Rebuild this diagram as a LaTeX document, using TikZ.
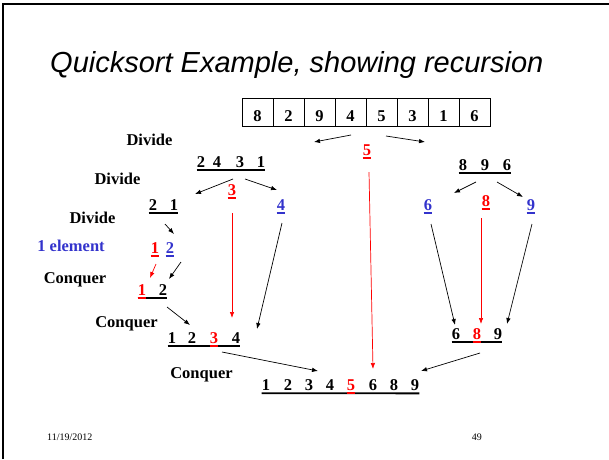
\documentclass[tikz,border=0pt]{standalone}
\usepackage{fontspec}
\setmainfont{Liberation Serif}
\newfontfamily\titlefont{Liberation Sans}
\usepackage{tikz}
\usetikzlibrary{arrows.meta,positioning}
\definecolor{pivotred}{RGB}{255,0,0}
\definecolor{leafblue}{RGB}{51,51,204}
\newcommand\numfont{\bfseries\fontsize{16.5}{18}\selectfont}

\begin{document}
\begin{tikzpicture}[
  x=1pt,y=-1pt,
  node distance=0pt,
  cell/.style={draw,line width=0.8pt,font=\numfont,minimum width=31pt,minimum height=28pt,
    inner sep=0pt,outer sep=0pt,text height=18pt,text depth=0pt},
  num/.style={font=\numfont,inner sep=0pt,anchor=base},
  lbl/.style={font=\numfont,inner sep=0pt},
  uline/.style={line width=1.8pt},
  arrow/.style={-{Latex[length=6pt,width=4.5pt]},line width=0.7pt},
  redarrow/.style={arrow,pivotred}
]
\useasboundingbox (0,0) rectangle (609,459);
% slide frame
\draw[line width=1.6pt] (3,459) -- (3,4) -- (609,4);
\node[anchor=base west,inner sep=0pt,font=\titlefont\itshape\fontsize{29}{32}\selectfont]
  (title) at (50,72) {Quicksort Example, showing recursion};

% input array
\node[cell] (c1) at (257.5,112) {8};
\node[cell,right=of c1] (c2) {2};
\node[cell,right=of c2] (c3) {9};
\node[cell,right=of c3] (c4) {4};
\node[cell,right=of c4] (c5) {5};
\node[cell,right=of c5] (c6) {3};
\node[cell,right=of c6] (c7) {1};
\node[cell,right=of c7] (c8) {6};

% step labels
\node[lbl] (div1) at (149.5,140) {Divide};
\node[lbl] (div2) at (117.5,179) {Divide};
\node[lbl] (div3) at (92.5,218) {Divide};
\node[lbl,text=leafblue] (one) at (71,246) {1 element};
\node[lbl] (con1) at (75,280) {Conquer};
\node[lbl] (con2) at (126.5,324) {Conquer};
\node[lbl] (con3) at (201.5,375) {Conquer};

% rows of numbers
\foreach \x/\d/\c [count=\i] in {201/2/black,217/4/black,240/3/black,261/1/black}
  \node[num,text=\c] (la\i) at (\x,167.5) {\d};
\foreach \x/\d/\c [count=\i] in {153/2/black,174/1/black}
  \node[num,text=\c] (lb\i) at (\x,210.5) {\d};
\foreach \x/\d/\c [count=\i] in {142/1/pivotred,163/2/black}
  \node[num,text=\c] (lf\i) at (\x,295.5) {\d};
\foreach \x/\d/\c [count=\i] in {172/1/black,192/2/black,214/3/pivotred,236/4/black}
  \node[num,text=\c] (lg\i) at (\x,343.5) {\d};
\foreach \x/\d/\c [count=\i] in {266/1/black,288/2/black,309/3/black,330/4/black,
    351/5/pivotred,373/6/black,394/8/black,415/9/black}
  \node[num,text=\c] (lh\i) at (\x,390.5) {\d};
\foreach \x/\d/\c [count=\i] in {463/8/black,485/9/black,507/6/black}
  \node[num,text=\c] (ra\i) at (\x,170.5) {\d};
\foreach \x/\d/\c [count=\i] in {456/6/black,477/8/pivotred,498/9/black}
  \node[num,text=\c] (rb\i) at (\x,339.5) {\d};

% pivots and single elements
\node[num,text=pivotred] (pa) at (367,155.5) {5};
\node[num,text=pivotred] (pb) at (232,195.5) {3};
\node[num,text=leafblue] (pc) at (281,210.5) {4};
\node[num,text=pivotred] (le1) at (155,253.5) {1};
\node[num,text=leafblue] (le2) at (170,253.5) {2};
\node[num,text=leafblue] (pd) at (428,210.5) {6};
\node[num,text=pivotred] (pe) at (486,206.5) {8};
\node[num,text=leafblue] (pf) at (531,210.5) {9};

% underlines
\draw[uline] ([yshift=-2.5]la1.south west) -- ([yshift=-2.5]la4.south east);
\draw[uline] ([yshift=-2.5]lb1.south west) -- ([yshift=-2.5]lb2.south east);
\draw[uline] ([yshift=-2.5]lf1.south west) -- ([yshift=-2.5]lf2.south east);
\draw[uline] ([yshift=-2.5]lg1.south west) -- ([yshift=-2.5]lg4.south east);
\draw[uline] ([yshift=-2.5]lh1.south west) -- ([yshift=-2.5]lh8.south east);
\draw[uline] ([yshift=-2.5]ra1.south west) -- ([yshift=-2.5]ra3.south east);
\draw[uline] ([yshift=-2.5]rb1.south west) -- ([yshift=-2.5]rb3.south east);
\foreach \n in {lf1,lg3,lh5,rb2,pa,pb,le1,pe}
  \draw[uline,pivotred] ([yshift=-2.5]\n.south west) -- ([yshift=-2.5]\n.south east);
\foreach \n in {pc,le2,pd,pf}
  \draw[uline,leafblue] ([yshift=-2.5]\n.south west) -- ([yshift=-2.5]\n.south east);

% divide arrows
\draw[arrow] ([shift={(0.5,9)}]c4.south) -- ([shift={(53,-25.5)}]la4.base);
\draw[arrow] ([shift={(4.5,10)}]c5.south) -- ([shift={(-38,-28.5)}]ra1.base);
\draw[arrow] ([shift={(-7,11.5)}]la3.base) -- ([shift={(21,-16.5)}]lb2.base);
\draw[arrow] ([shift={(5,11.5)}]la3.base) -- ([shift={(-4,-20.5)}]pc.base);
\draw[arrow] ([shift={(12,13.5)}]lb1.base) -- ([shift={(4,-19.5)}]le2.base);
\draw[arrow] ([shift={(-9,11.5)}]ra2.base) -- ([shift={(26,-17.5)}]pd.base);
\draw[arrow] ([shift={(12,11.5)}]ra2.base) -- ([shift={(-8,-13.5)}]pf.base);

% conquer arrows
\draw[redarrow] ([shift={(1,10.5)}]le1.base) -- ([shift={(8,-17.5)}]lf1.base);
\draw[arrow] ([shift={(11,8.5)}]le2.base) -- ([shift={(6,-16.5)}]lf2.base);
\draw[arrow] ([shift={(4,11.5)}]lf2.base) -- ([shift={(18,-18.5)}]lg1.base);
\draw[redarrow] ([shift={(0,17.5)}]pb.base) -- ([shift={(18,-25.5)}]lg3.base);
\draw[arrow] ([shift={(1,12.5)}]pc.base) -- ([shift={(21,-14.5)}]lg4.base);
\draw[arrow] ([shift={(3,13.5)}]pd.base) -- ([shift={(-1,-14.5)}]rb1.base);
\draw[redarrow] ([shift={(-5,11.5)}]pe.base) -- ([shift={(4,-15.5)}]rb2.base);
\draw[arrow] ([shift={(1,13.5)}]pf.base) -- ([shift={(9,-15.5)}]rb3.base);
\draw[arrow] ([shift={(8,8.5)}]lg3.base) -- ([shift={(9,-19.5)}]lh3.base);
\draw[redarrow] ([shift={(2,16.5)}]pa.base) -- ([shift={(0,-21.5)}]lh6.base);
\draw[arrow] ([shift={(3,13.5)}]rb2.base) -- ([shift={(6,-19.5)}]lh8.base);

% footer
\node[anchor=base west,inner sep=0pt,font=\fontsize{10}{12}\selectfont] (date) at (47,440.5) {11/19/2012};
\node[anchor=base east,inner sep=0pt,font=\fontsize{10}{12}\selectfont] (page) at (482,440.5) {49};
\end{tikzpicture}
\end{document}
